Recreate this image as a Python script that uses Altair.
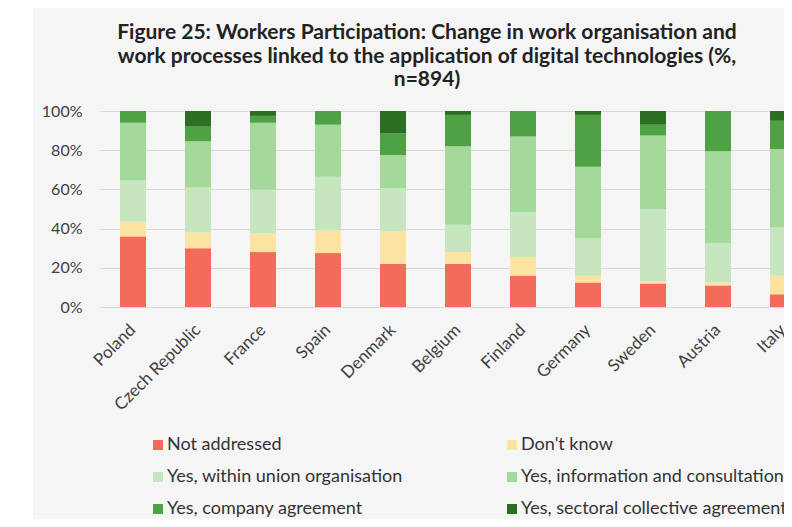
import altair as alt
import pandas as pd

countries = ["Poland", "Czech Republic", "France", "Spain", "Denmark", "Belgium",
             "Finland", "Germany", "Sweden", "Austria", "Italy"]
categories = ["Not addressed", "Don't know", "Yes, within union organisation",
              "Yes, information and consultation", "Yes, company agreement",
              "Yes, sectoral collective agreement"]
colors = ["#f26b5b", "#fde3a0", "#c6e6c0", "#a5d89b", "#4ea244", "#2e6e24"]

not_addressed = [36, 30, 28, 27.5, 22, 22, 16, 12.5, 12, 11, 6.5]
dont_know = [7.5, 8, 9.5, 11.5, 16.5, 6, 9.5, 3.5, 1, 1.5, 9.5]
union_org = [21, 23, 22.5, 27.5, 22, 14, 23, 19, 37, 20, 24.5]
info_consult = [29.5, 23.5, 34, 26.5, 17, 40, 38.5, 36.5, 37.5, 47, 40]
company = [6, 7.5, 3.5, 7, 11, 16, 13, 26.5, 5.5, 20.5, 14.5]
sectoral = [0, 8, 2.5, 0, 11.5, 2, 0, 2, 7, 0, 5]

series = [not_addressed, dont_know, union_org, info_consult, company, sectoral]
rows = []
for ci, (cat, vals) in enumerate(zip(categories, series)):
    for country, v in zip(countries, vals):
        rows.append({"country": country, "category": cat, "order": ci, "value": v})
df = pd.DataFrame(rows)

FONT = "Lato"
W, H = 684, 196

one = pd.DataFrame({"a": [0]})
# white margin to the left of the grey panel
strip_left = alt.Chart(one).mark_rect(color="white").encode(
    x=alt.value(-92), x2=alt.value(-67), y=alt.value(-103), y2=alt.value(408)
)

bars = alt.Chart(df).mark_bar().encode(
    x=alt.X("country:N", sort=countries,
            scale=alt.Scale(range=[0, 716], paddingInner=0.6, paddingOuter=0.3077),
            axis=alt.Axis(title=None, labelAngle=-45, labelAlign="right",
                          labelBaseline="middle", labelFontSize=17, labelColor="#404040",
                          labelFont=FONT, labelPadding=20, domain=False, ticks=False,
                          labelOverlap=False)),
    y=alt.Y("value:Q", stack="zero", scale=alt.Scale(domain=[0, 100]),
            axis=alt.Axis(title=None, values=[0, 20, 40, 60, 80, 100],
                          labelExpr="datum.value + '%'", labelFontSize=16,
                          labelColor="#404040", labelFont=FONT, labelPadding=18,
                          domain=False, ticks=False, gridColor="#d9d9d9")),
    color=alt.Color("category:N", sort=categories,
                    scale=alt.Scale(domain=categories, range=colors),
                    legend=alt.Legend(title=None, orient="none", legendX=49, legendY=325,
                                      columns=2, direction="horizontal",
                                      symbolType="square", symbolSize=100,
                                      symbolStrokeWidth=0, labelFontSize=18,
                                      labelFont=FONT, labelColor="#333333",
                                      rowPadding=14, columnPadding=100,
                                      labelLimit=400, labelOffset=0)),
    order=alt.Order("order:Q", sort="ascending"),
)

chart = alt.layer(strip_left, bars).properties(
    width=W, height=H,
    autosize=alt.AutoSizeParams(type="none"),
    padding={"left": 92, "top": 103, "right": 0, "bottom": 212},
    background="#f6f5f5",
    title=alt.Title(
        ["Figure 25:  Workers Participation: Change in work organisation and",
         "work processes linked to the application of digital technologies (%,",
         "n=894)"],
        font=FONT, fontSize=21, fontWeight="bold", color="#222222",
        anchor="middle", frame="group", dx=-15, offset=-82, lineHeight=23.5),
).configure_view(stroke=None)

chart.save("out.html", embed_options={"renderer": "svg", "actions": False})
